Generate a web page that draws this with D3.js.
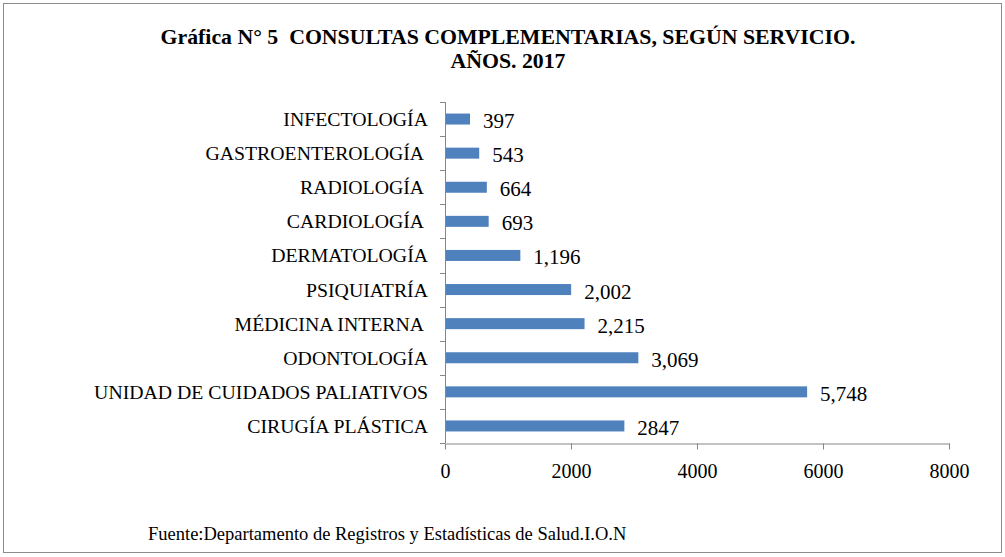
<!DOCTYPE html>
<html>
<head>
<meta charset="utf-8">
<title>Consultas complementarias</title>
<script src="https://cdnjs.cloudflare.com/ajax/libs/d3/7.8.5/d3.min.js"></script>
<style>
  body { margin: 0; background: #fff; }
  text { font-family: "Liberation Serif", "Times New Roman", serif; fill: #000; }
</style>
</head>
<body>
<div id="chart"></div>
<script>
// data (top to bottom)
var services = ["INFECTOLOGÍA", "GASTROENTEROLOGÍA ", "RADIOLOGÍA ", "CARDIOLOGÍA ",
  "DERMATOLOGÍA", "PSIQUIATRÍA", "MÉDICINA INTERNA ", "ODONTOLOGÍA",
  "UNIDAD DE CUIDADOS PALIATIVOS", "CIRUGÍA PLÁSTICA"];
var consultas = [397, 543, 664, 693, 1196, 2002, 2215, 3069, 5748, 2847];
var valueLabels = ["397", "543", "664", "693", "1,196", "2,002", "2,215", "3,069", "5,748", "2847"];
var xTicks = [0, 2000, 4000, 6000, 8000];

var width = 1005, height = 557;
var margin = { left: 445, right: 56, top: 102, bottom: 114 };

var svg = d3.select("#chart").append("svg")
  .attr("width", width)
  .attr("height", height);

// outer frame
svg.append("rect")
  .attr("x", 3.5).attr("y", 3.5)
  .attr("width", width - 7).attr("height", height - 8)
  .attr("fill", "#fff")
  .attr("stroke", "#8c8c8c")
  .attr("stroke-width", 1);

// title
var title = svg.append("text")
  .attr("text-anchor", "middle")
  .attr("xml:space", "preserve")
  .style("white-space", "pre")
  .style("font-weight", "bold")
  .style("font-size", "21.8px");
title.append("tspan").attr("x", 508).attr("y", 44).text("Gráfica N° 5  CONSULTAS COMPLEMENTARIAS, SEGÚN SERVICIO.");
title.append("tspan").attr("x", 508).attr("y", 68).text("AÑOS. 2017");

var x = d3.scaleLinear()
  .domain([0, 8000])
  .range([margin.left, width - margin.right]);

var y = d3.scaleBand()
  .domain(services)
  .range([margin.top, height - margin.bottom]);

var barH = 11;

// bars
svg.append("g").selectAll("rect")
  .data(consultas)
  .join("rect")
  .attr("x", x(0))
  .attr("y", function (d, i) { return y(services[i]) + y.bandwidth() / 2 - barH / 2; })
  .attr("width", function (d) { return x(d) - x(0); })
  .attr("height", barH)
  .attr("fill", "#4f81bd");

// value labels
svg.append("g").selectAll("text")
  .data(consultas)
  .join("text")
  .attr("x", function (d) { return x(d) + 13; })
  .attr("y", function (d, i) { return y(services[i]) + y.bandwidth() / 2 + 9; })
  .style("font-size", "21px")
  .text(function (d, i) { return valueLabels[i]; });

// y axis: ticks between categories
var yAxis = svg.append("g");
yAxis.append("line")
  .attr("x1", x(0) + 0.5).attr("x2", x(0) + 0.5)
  .attr("y1", y.range()[0]).attr("y2", y.range()[1])
  .attr("stroke", "#868686");
yAxis.selectAll("line.tick")
  .data(d3.range(services.length + 1))
  .join("line")
  .attr("class", "tick")
  .attr("x1", x(0) - 5).attr("x2", x(0))
  .attr("y1", function (i) { return Math.round(y.range()[0] + i * y.step()) + 0.5; })
  .attr("y2", function (i) { return Math.round(y.range()[0] + i * y.step()) + 0.5; })
  .attr("stroke", "#868686");
yAxis.selectAll("text")
  .data(services)
  .join("text")
  .attr("x", x(0) - 17)
  .attr("y", function (d) { return y(d) + y.bandwidth() / 2 + 7; })
  .attr("text-anchor", "end")
  .attr("xml:space", "preserve")
  .style("white-space", "pre")
  .style("font-size", "19.8px")
  .text(function (d) { return d; });

// x axis
var xAxis = svg.append("g")
  .attr("transform", "translate(0," + (height - margin.bottom + 0.5) + ")")
  .call(d3.axisBottom(x).tickValues(xTicks).tickFormat(d3.format("d")).tickSizeInner(6).tickSizeOuter(0).tickPadding(14));
xAxis.select(".domain").attr("stroke", "#868686");
xAxis.selectAll(".tick line").attr("stroke", "#868686");
xAxis.selectAll(".tick text")
  .style("font-family", "'Liberation Serif', 'Times New Roman', serif")
  .style("font-size", "20px")
  .attr("fill", "#000");

// source
svg.append("text")
  .attr("x", 148).attr("y", 540)
  .style("font-size", "18.5px")
  .text("Fuente:Departamento de Registros y Estadísticas de Salud.I.O.N");
</script>
</body>
</html>
